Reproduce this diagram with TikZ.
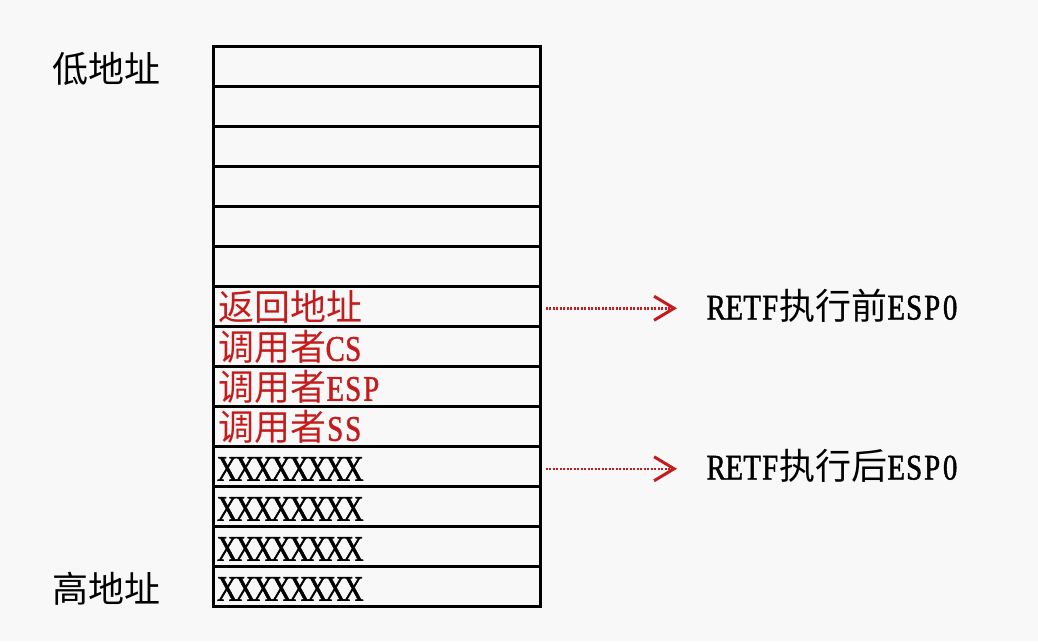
\documentclass[tikz,border=0pt]{standalone}
\usepackage{fontspec}
\setmainfont{Noto Sans CJK SC}
\newfontfamily\latf[FakeStretch=0.8,FakeBold=1.2]{Liberation Serif}
\newcommand\hc[1]{\makebox[18pt]{\latf #1}}
\newcommand\lat[1]{\latmono#1\relax}
\def\latmono#1{\ifx#1\relax\else\hc{#1}\expandafter\latmono\fi}
\usetikzlibrary{arrows.meta}
\definecolor{bg}{RGB}{248,248,248}
\definecolor{myred}{RGB}{196,28,28}
\begin{document}
\begin{tikzpicture}[x=1pt,y=-1pt,
  txt/.style={font=\fontsize{36}{36}\selectfont,text height=31pt,text depth=2pt},
  cell/.style={txt,draw=black,line width=2.5pt,minimum width=327pt,minimum height=40pt,
    inner xsep=5pt,inner ysep=0pt,text width=317pt,align=left,anchor=north west},
  lbl/.style={txt,inner sep=0pt},
  arr/.style={myred,line width=2.5pt,dash pattern=on 2pt off 1.5pt,
    -{Straight Barb[length=20pt,width=24pt,line width=3pt]},
    shorten <=4pt,shorten >=30pt}]
\fill[bg] (0,0) rectangle (1038,641);
\useasboundingbox (0,0) rectangle (1038,641);
\foreach \i in {0,...,5} \node[cell] (r\i) at (212,{45+40*\i}) {};
\node[cell,text=myred] (r6) at (212,285) {返回地址};
\node[cell,text=myred] (r7) at (212,325) {调用者\lat{CS}};
\node[cell,text=myred] (r8) at (212,365) {调用者\lat{ESP}};
\node[cell,text=myred] (r9) at (212,405) {调用者\lat{SS}};
\foreach \i in {10,...,13} \node[cell] (r\i) at (212,{45+40*\i}) {\lat{XXXXXXXX}};
\node[lbl] (lo) at (106,67.5) {低地址};
\node[lbl] (hi) at (106,588) {高地址};
\node[lbl,anchor=west] (before) at (707,305) {\lat{RETF}执行前\lat{ESP0}};
\node[lbl,anchor=west] (after) at (707,465) {\lat{RETF}执行后\lat{ESP0}};
\draw[arr] ([yshift=-2pt]r6.east) -- ([yshift=-2pt]r6.east -| before.west);
\draw[arr] ([yshift=-2.5pt]r10.east) -- ([yshift=-2.5pt]r10.east -| after.west);
\end{tikzpicture}
\end{document}
